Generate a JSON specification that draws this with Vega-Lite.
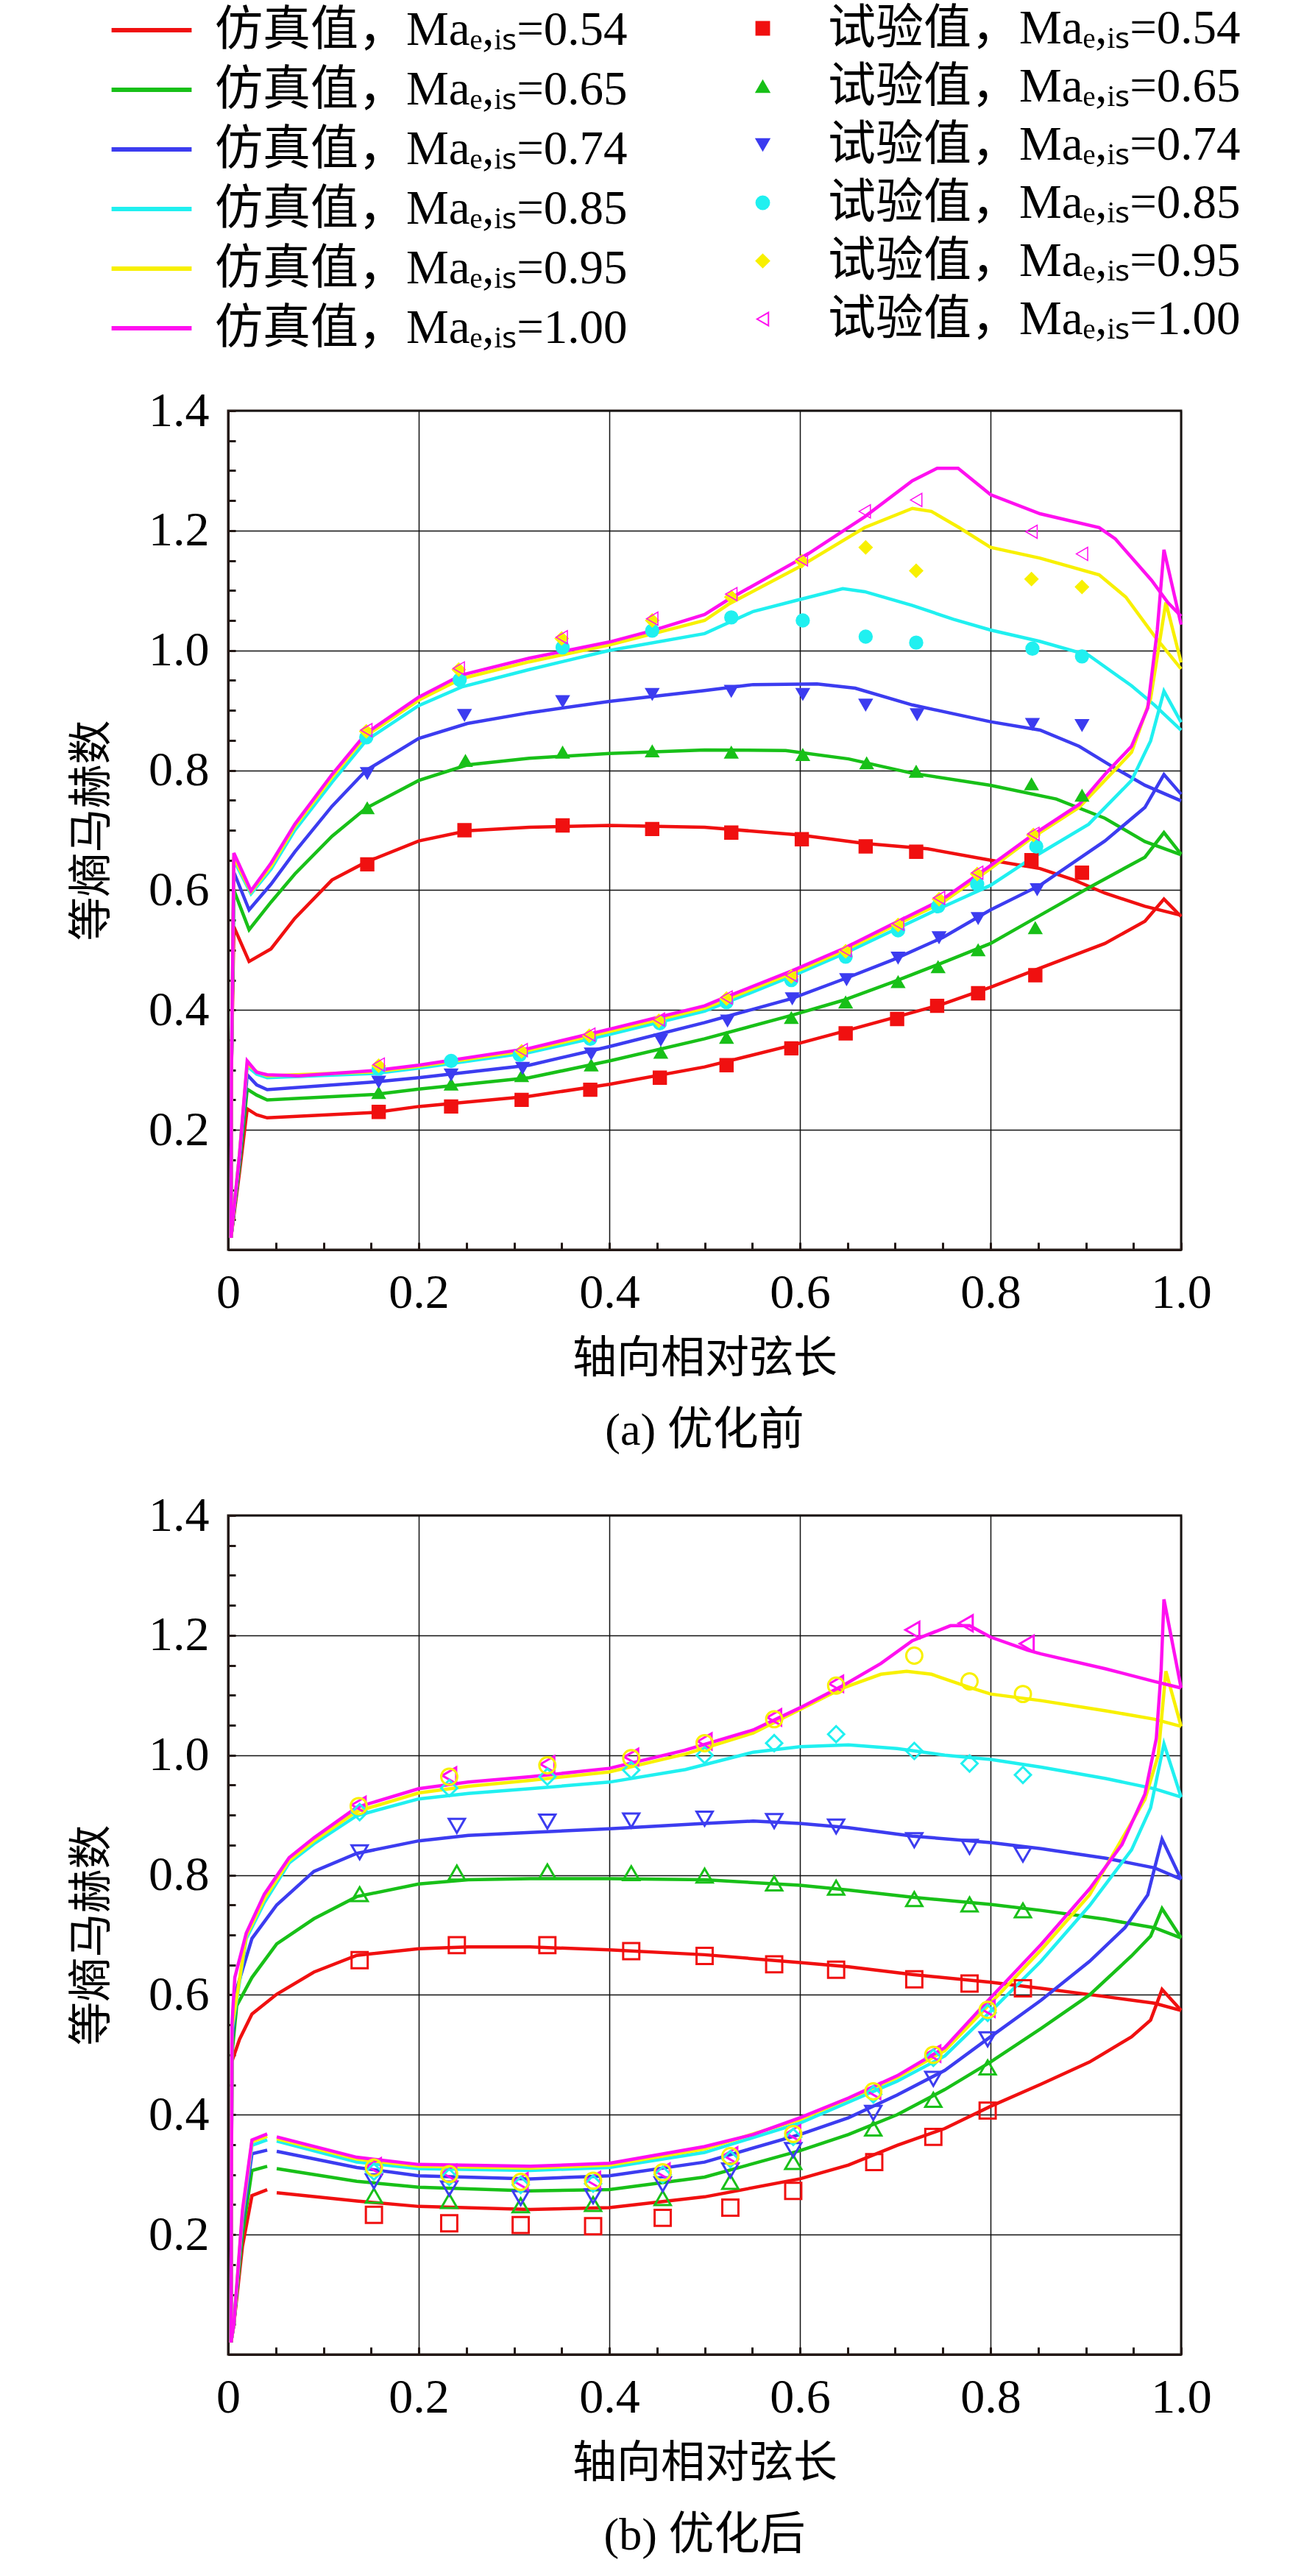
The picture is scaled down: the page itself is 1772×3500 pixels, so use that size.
{
  "$schema": "https://vega.github.io/schema/vega-lite/v6.json",
  "background": "white",
  "padding": {"left": 94, "top": 6, "right": 0, "bottom": 0},
  "spacing": 47,
  "config": {
    "view": {"stroke": "#231815", "strokeWidth": 3},
    "axis": {
      "domainColor": "#231815", "domainWidth": 3,
      "tickColor": "#231815", "tickWidth": 3, "tickSize": -10,
      "gridColor": "#111111", "gridWidth": 1.5,
      "labelFont": "Liberation Serif", "labelFontSize": 66, "labelColor": "#000000",
      "labelPadding": 36, "labelFlush": false, "labelOverlap": false, "labelBound": false,
      "titleFont": "Noto Sans CJK SC", "titleFontSize": 60, "titleFontWeight": "normal", "titleColor": "#000000"
    },
    "legend": {
      "orient": "none", "padding": 0, "rowPadding": 13,
      "labelFont": "Liberation Serif, Noto Sans CJK SC", "labelFontSize": 65, "labelColor": "#000000", "labelLimit": 0
    },
    "title": {"font": "Liberation Serif, Noto Sans CJK SC", "fontSize": 62, "fontWeight": "normal", "color": "#000000"}
  },
  "datasets": {
    "simA": [
      {"sim":"0.54","s":"u","x":0.003,"y":0.02},{"sim":"0.54","s":"u","x":0.0035,"y":0.3},{"sim":"0.54","s":"u","x":0.006,"y":0.539},{"sim":"0.54","s":"u","x":0.022,"y":0.481},{"sim":"0.54","s":"u","x":0.045,"y":0.502},{"sim":"0.54","s":"u","x":0.07,"y":0.553},{"sim":"0.54","s":"u","x":0.109,"y":0.617},{"sim":"0.54","s":"u","x":0.145,"y":0.647},{"sim":"0.54","s":"u","x":0.2,"y":0.682},{"sim":"0.54","s":"u","x":0.251,"y":0.699},{"sim":"0.54","s":"u","x":0.316,"y":0.705},{"sim":"0.54","s":"u","x":0.4,"y":0.708},{"sim":"0.54","s":"u","x":0.5,"y":0.705},{"sim":"0.54","s":"u","x":0.6,"y":0.692},{"sim":"0.54","s":"u","x":0.668,"y":0.678},{"sim":"0.54","s":"u","x":0.734,"y":0.669},{"sim":"0.54","s":"u","x":0.8,"y":0.65},{"sim":"0.54","s":"u","x":0.852,"y":0.636},{"sim":"0.54","s":"u","x":0.886,"y":0.618},{"sim":"0.54","s":"u","x":0.92,"y":0.595},{"sim":"0.54","s":"u","x":0.962,"y":0.573},{"sim":"0.54","s":"u","x":1.0,"y":0.558},
      {"sim":"0.54","s":"l","x":0.003,"y":0.02},{"sim":"0.54","s":"l","x":0.012,"y":0.13},{"sim":"0.54","s":"l","x":0.02,"y":0.235},{"sim":"0.54","s":"l","x":0.03,"y":0.225},{"sim":"0.54","s":"l","x":0.041,"y":0.22},{"sim":"0.54","s":"l","x":0.154,"y":0.229},{"sim":"0.54","s":"l","x":0.2,"y":0.239},{"sim":"0.54","s":"l","x":0.316,"y":0.256},{"sim":"0.54","s":"l","x":0.4,"y":0.276},{"sim":"0.54","s":"l","x":0.5,"y":0.305},{"sim":"0.54","s":"l","x":0.591,"y":0.341},{"sim":"0.54","s":"l","x":0.645,"y":0.364},{"sim":"0.54","s":"l","x":0.698,"y":0.387},{"sim":"0.54","s":"l","x":0.75,"y":0.41},{"sim":"0.54","s":"l","x":0.8,"y":0.438},{"sim":"0.54","s":"l","x":0.852,"y":0.47},{"sim":"0.54","s":"l","x":0.92,"y":0.511},{"sim":"0.54","s":"l","x":0.962,"y":0.548},{"sim":"0.54","s":"l","x":0.982,"y":0.585},{"sim":"0.54","s":"l","x":1.0,"y":0.556},
      {"sim":"0.65","s":"u","x":0.003,"y":0.02},{"sim":"0.65","s":"u","x":0.0035,"y":0.3},{"sim":"0.65","s":"u","x":0.006,"y":0.6},{"sim":"0.65","s":"u","x":0.022,"y":0.534},{"sim":"0.65","s":"u","x":0.045,"y":0.58},{"sim":"0.65","s":"u","x":0.07,"y":0.627},{"sim":"0.65","s":"u","x":0.109,"y":0.69},{"sim":"0.65","s":"u","x":0.145,"y":0.737},{"sim":"0.65","s":"u","x":0.2,"y":0.783},{"sim":"0.65","s":"u","x":0.251,"y":0.809},{"sim":"0.65","s":"u","x":0.316,"y":0.82},{"sim":"0.65","s":"u","x":0.4,"y":0.828},{"sim":"0.65","s":"u","x":0.5,"y":0.834},{"sim":"0.65","s":"u","x":0.585,"y":0.833},{"sim":"0.65","s":"u","x":0.651,"y":0.819},{"sim":"0.65","s":"u","x":0.718,"y":0.795},{"sim":"0.65","s":"u","x":0.8,"y":0.775},{"sim":"0.65","s":"u","x":0.869,"y":0.752},{"sim":"0.65","s":"u","x":0.92,"y":0.72},{"sim":"0.65","s":"u","x":0.962,"y":0.681},{"sim":"0.65","s":"u","x":1.0,"y":0.659},
      {"sim":"0.65","s":"l","x":0.003,"y":0.02},{"sim":"0.65","s":"l","x":0.012,"y":0.14},{"sim":"0.65","s":"l","x":0.02,"y":0.268},{"sim":"0.65","s":"l","x":0.03,"y":0.258},{"sim":"0.65","s":"l","x":0.041,"y":0.25},{"sim":"0.65","s":"l","x":0.154,"y":0.259},{"sim":"0.65","s":"l","x":0.2,"y":0.268},{"sim":"0.65","s":"l","x":0.316,"y":0.287},{"sim":"0.65","s":"l","x":0.4,"y":0.315},{"sim":"0.65","s":"l","x":0.5,"y":0.352},{"sim":"0.65","s":"l","x":0.591,"y":0.391},{"sim":"0.65","s":"l","x":0.645,"y":0.416},{"sim":"0.65","s":"l","x":0.698,"y":0.447},{"sim":"0.65","s":"l","x":0.75,"y":0.479},{"sim":"0.65","s":"l","x":0.8,"y":0.511},{"sim":"0.65","s":"l","x":0.852,"y":0.558},{"sim":"0.65","s":"l","x":0.903,"y":0.604},{"sim":"0.65","s":"l","x":0.962,"y":0.655},{"sim":"0.65","s":"l","x":0.982,"y":0.696},{"sim":"0.65","s":"l","x":1.0,"y":0.66},
      {"sim":"0.74","s":"u","x":0.003,"y":0.02},{"sim":"0.74","s":"u","x":0.0035,"y":0.3},{"sim":"0.74","s":"u","x":0.006,"y":0.63},{"sim":"0.74","s":"u","x":0.022,"y":0.567},{"sim":"0.74","s":"u","x":0.045,"y":0.61},{"sim":"0.74","s":"u","x":0.07,"y":0.664},{"sim":"0.74","s":"u","x":0.109,"y":0.74},{"sim":"0.74","s":"u","x":0.145,"y":0.8},{"sim":"0.74","s":"u","x":0.2,"y":0.853},{"sim":"0.74","s":"u","x":0.251,"y":0.878},{"sim":"0.74","s":"u","x":0.316,"y":0.896},{"sim":"0.74","s":"u","x":0.4,"y":0.915},{"sim":"0.74","s":"u","x":0.5,"y":0.933},{"sim":"0.74","s":"u","x":0.551,"y":0.943},{"sim":"0.74","s":"u","x":0.618,"y":0.944},{"sim":"0.74","s":"u","x":0.658,"y":0.937},{"sim":"0.74","s":"u","x":0.718,"y":0.909},{"sim":"0.74","s":"u","x":0.8,"y":0.881},{"sim":"0.74","s":"u","x":0.852,"y":0.867},{"sim":"0.74","s":"u","x":0.893,"y":0.84},{"sim":"0.74","s":"u","x":0.927,"y":0.807},{"sim":"0.74","s":"u","x":0.962,"y":0.775},{"sim":"0.74","s":"u","x":1.0,"y":0.749},
      {"sim":"0.74","s":"l","x":0.003,"y":0.02},{"sim":"0.74","s":"l","x":0.012,"y":0.15},{"sim":"0.74","s":"l","x":0.02,"y":0.292},{"sim":"0.74","s":"l","x":0.03,"y":0.275},{"sim":"0.74","s":"l","x":0.041,"y":0.267},{"sim":"0.74","s":"l","x":0.154,"y":0.28},{"sim":"0.74","s":"l","x":0.2,"y":0.287},{"sim":"0.74","s":"l","x":0.316,"y":0.308},{"sim":"0.74","s":"l","x":0.4,"y":0.339},{"sim":"0.74","s":"l","x":0.5,"y":0.379},{"sim":"0.74","s":"l","x":0.591,"y":0.419},{"sim":"0.74","s":"l","x":0.645,"y":0.451},{"sim":"0.74","s":"l","x":0.698,"y":0.484},{"sim":"0.74","s":"l","x":0.75,"y":0.521},{"sim":"0.74","s":"l","x":0.8,"y":0.567},{"sim":"0.74","s":"l","x":0.852,"y":0.608},{"sim":"0.74","s":"l","x":0.92,"y":0.682},{"sim":"0.74","s":"l","x":0.962,"y":0.738},{"sim":"0.74","s":"l","x":0.982,"y":0.793},{"sim":"0.74","s":"l","x":1.0,"y":0.76},
      {"sim":"0.85","s":"u","x":0.003,"y":0.02},{"sim":"0.85","s":"u","x":0.0035,"y":0.3},{"sim":"0.85","s":"u","x":0.006,"y":0.65},{"sim":"0.85","s":"u","x":0.024,"y":0.594},{"sim":"0.85","s":"u","x":0.045,"y":0.635},{"sim":"0.85","s":"u","x":0.07,"y":0.7},{"sim":"0.85","s":"u","x":0.109,"y":0.78},{"sim":"0.85","s":"u","x":0.145,"y":0.85},{"sim":"0.85","s":"u","x":0.2,"y":0.908},{"sim":"0.85","s":"u","x":0.245,"y":0.939},{"sim":"0.85","s":"u","x":0.316,"y":0.968},{"sim":"0.85","s":"u","x":0.4,"y":1.0},{"sim":"0.85","s":"u","x":0.5,"y":1.028},{"sim":"0.85","s":"u","x":0.551,"y":1.065},{"sim":"0.85","s":"u","x":0.6,"y":1.085},{"sim":"0.85","s":"u","x":0.645,"y":1.103},{"sim":"0.85","s":"u","x":0.668,"y":1.098},{"sim":"0.85","s":"u","x":0.718,"y":1.075},{"sim":"0.85","s":"u","x":0.761,"y":1.052},{"sim":"0.85","s":"u","x":0.8,"y":1.034},{"sim":"0.85","s":"u","x":0.852,"y":1.015},{"sim":"0.85","s":"u","x":0.903,"y":0.992},{"sim":"0.85","s":"u","x":0.948,"y":0.941},{"sim":"0.85","s":"u","x":0.972,"y":0.909},{"sim":"0.85","s":"u","x":1.0,"y":0.867},
      {"sim":"0.85","s":"l","x":0.003,"y":0.02},{"sim":"0.85","s":"l","x":0.012,"y":0.16},{"sim":"0.85","s":"l","x":0.02,"y":0.306},{"sim":"0.85","s":"l","x":0.03,"y":0.293},{"sim":"0.85","s":"l","x":0.041,"y":0.287},{"sim":"0.85","s":"l","x":0.154,"y":0.294},{"sim":"0.85","s":"l","x":0.2,"y":0.303},{"sim":"0.85","s":"l","x":0.316,"y":0.329},{"sim":"0.85","s":"l","x":0.4,"y":0.359},{"sim":"0.85","s":"l","x":0.5,"y":0.398},{"sim":"0.85","s":"l","x":0.591,"y":0.456},{"sim":"0.85","s":"l","x":0.645,"y":0.493},{"sim":"0.85","s":"l","x":0.698,"y":0.533},{"sim":"0.85","s":"l","x":0.75,"y":0.572},{"sim":"0.85","s":"l","x":0.8,"y":0.608},{"sim":"0.85","s":"l","x":0.844,"y":0.654},{"sim":"0.85","s":"l","x":0.903,"y":0.71},{"sim":"0.85","s":"l","x":0.948,"y":0.783},{"sim":"0.85","s":"l","x":0.968,"y":0.849},{"sim":"0.85","s":"l","x":0.982,"y":0.932},{"sim":"0.85","s":"l","x":1.0,"y":0.88},
      {"sim":"0.95","s":"u","x":0.003,"y":0.02},{"sim":"0.95","s":"u","x":0.0035,"y":0.3},{"sim":"0.95","s":"u","x":0.006,"y":0.655},{"sim":"0.95","s":"u","x":0.024,"y":0.597},{"sim":"0.95","s":"u","x":0.045,"y":0.64},{"sim":"0.95","s":"u","x":0.07,"y":0.706},{"sim":"0.95","s":"u","x":0.109,"y":0.788},{"sim":"0.95","s":"u","x":0.145,"y":0.858},{"sim":"0.95","s":"u","x":0.2,"y":0.917},{"sim":"0.95","s":"u","x":0.245,"y":0.953},{"sim":"0.95","s":"u","x":0.316,"y":0.981},{"sim":"0.95","s":"u","x":0.4,"y":1.009},{"sim":"0.95","s":"u","x":0.5,"y":1.05},{"sim":"0.95","s":"u","x":0.525,"y":1.077},{"sim":"0.95","s":"u","x":0.6,"y":1.14},{"sim":"0.95","s":"u","x":0.668,"y":1.205},{"sim":"0.95","s":"u","x":0.718,"y":1.237},{"sim":"0.95","s":"u","x":0.738,"y":1.232},{"sim":"0.95","s":"u","x":0.767,"y":1.205},{"sim":"0.95","s":"u","x":0.8,"y":1.172},{"sim":"0.95","s":"u","x":0.852,"y":1.154},{"sim":"0.95","s":"u","x":0.914,"y":1.126},{"sim":"0.95","s":"u","x":0.942,"y":1.089},{"sim":"0.95","s":"u","x":0.972,"y":1.024},{"sim":"0.95","s":"u","x":1.0,"y":0.969},
      {"sim":"0.95","s":"l","x":0.003,"y":0.02},{"sim":"0.95","s":"l","x":0.012,"y":0.16},{"sim":"0.95","s":"l","x":0.02,"y":0.31},{"sim":"0.95","s":"l","x":0.03,"y":0.297},{"sim":"0.95","s":"l","x":0.041,"y":0.29},{"sim":"0.95","s":"l","x":0.154,"y":0.297},{"sim":"0.95","s":"l","x":0.2,"y":0.306},{"sim":"0.95","s":"l","x":0.316,"y":0.333},{"sim":"0.95","s":"l","x":0.4,"y":0.364},{"sim":"0.95","s":"l","x":0.5,"y":0.403},{"sim":"0.95","s":"l","x":0.591,"y":0.461},{"sim":"0.95","s":"l","x":0.645,"y":0.498},{"sim":"0.95","s":"l","x":0.698,"y":0.54},{"sim":"0.95","s":"l","x":0.75,"y":0.58},{"sim":"0.95","s":"l","x":0.8,"y":0.636},{"sim":"0.95","s":"l","x":0.844,"y":0.688},{"sim":"0.95","s":"l","x":0.893,"y":0.738},{"sim":"0.95","s":"l","x":0.948,"y":0.83},{"sim":"0.95","s":"l","x":0.968,"y":0.92},{"sim":"0.95","s":"l","x":0.984,"y":1.08},{"sim":"0.95","s":"l","x":1.0,"y":0.98},
      {"sim":"1.00","s":"u","x":0.003,"y":0.02},{"sim":"1.00","s":"u","x":0.0035,"y":0.3},{"sim":"1.00","s":"u","x":0.006,"y":0.662},{"sim":"1.00","s":"u","x":0.024,"y":0.599},{"sim":"1.00","s":"u","x":0.045,"y":0.645},{"sim":"1.00","s":"u","x":0.07,"y":0.71},{"sim":"1.00","s":"u","x":0.109,"y":0.793},{"sim":"1.00","s":"u","x":0.145,"y":0.862},{"sim":"1.00","s":"u","x":0.2,"y":0.922},{"sim":"1.00","s":"u","x":0.245,"y":0.959},{"sim":"1.00","s":"u","x":0.316,"y":0.987},{"sim":"1.00","s":"u","x":0.4,"y":1.014},{"sim":"1.00","s":"u","x":0.445,"y":1.033},{"sim":"1.00","s":"u","x":0.5,"y":1.06},{"sim":"1.00","s":"u","x":0.525,"y":1.085},{"sim":"1.00","s":"u","x":0.6,"y":1.152},{"sim":"1.00","s":"u","x":0.668,"y":1.223},{"sim":"1.00","s":"u","x":0.718,"y":1.283},{"sim":"1.00","s":"u","x":0.744,"y":1.304},{"sim":"1.00","s":"u","x":0.766,"y":1.304},{"sim":"1.00","s":"u","x":0.8,"y":1.26},{"sim":"1.00","s":"u","x":0.852,"y":1.228},{"sim":"1.00","s":"u","x":0.914,"y":1.205},{"sim":"1.00","s":"u","x":0.931,"y":1.186},{"sim":"1.00","s":"u","x":0.969,"y":1.117},{"sim":"1.00","s":"u","x":0.986,"y":1.08},{"sim":"1.00","s":"u","x":1.0,"y":1.057},
      {"sim":"1.00","s":"l","x":0.003,"y":0.02},{"sim":"1.00","s":"l","x":0.012,"y":0.16},{"sim":"1.00","s":"l","x":0.02,"y":0.315},{"sim":"1.00","s":"l","x":0.03,"y":0.296},{"sim":"1.00","s":"l","x":0.041,"y":0.292},{"sim":"1.00","s":"l","x":0.074,"y":0.29},{"sim":"1.00","s":"l","x":0.154,"y":0.299},{"sim":"1.00","s":"l","x":0.2,"y":0.308},{"sim":"1.00","s":"l","x":0.316,"y":0.336},{"sim":"1.00","s":"l","x":0.4,"y":0.368},{"sim":"1.00","s":"l","x":0.5,"y":0.407},{"sim":"1.00","s":"l","x":0.518,"y":0.419},{"sim":"1.00","s":"l","x":0.591,"y":0.465},{"sim":"1.00","s":"l","x":0.645,"y":0.502},{"sim":"1.00","s":"l","x":0.698,"y":0.544},{"sim":"1.00","s":"l","x":0.75,"y":0.585},{"sim":"1.00","s":"l","x":0.8,"y":0.641},{"sim":"1.00","s":"l","x":0.844,"y":0.692},{"sim":"1.00","s":"l","x":0.893,"y":0.743},{"sim":"1.00","s":"l","x":0.92,"y":0.793},{"sim":"1.00","s":"l","x":0.948,"y":0.84},{"sim":"1.00","s":"l","x":0.965,"y":0.904},{"sim":"1.00","s":"l","x":0.975,"y":1.034},{"sim":"1.00","s":"l","x":0.982,"y":1.168},{"sim":"1.00","s":"l","x":1.0,"y":1.043}
    ],
    "simB": [
      {"sim":"0.54","s":"u","x":0.003,"y":0.02},{"sim":"0.54","s":"u","x":0.0035,"y":0.3},{"sim":"0.54","s":"u","x":0.004,"y":0.489},{"sim":"0.54","s":"u","x":0.012,"y":0.526},{"sim":"0.54","s":"u","x":0.025,"y":0.568},{"sim":"0.54","s":"u","x":0.051,"y":0.601},{"sim":"0.54","s":"u","x":0.09,"y":0.638},{"sim":"0.54","s":"u","x":0.135,"y":0.666},{"sim":"0.54","s":"u","x":0.2,"y":0.677},{"sim":"0.54","s":"u","x":0.252,"y":0.68},{"sim":"0.54","s":"u","x":0.317,"y":0.68},{"sim":"0.54","s":"u","x":0.4,"y":0.675},{"sim":"0.54","s":"u","x":0.5,"y":0.667},{"sim":"0.54","s":"u","x":0.6,"y":0.654},{"sim":"0.54","s":"u","x":0.651,"y":0.647},{"sim":"0.54","s":"u","x":0.718,"y":0.634},{"sim":"0.54","s":"u","x":0.8,"y":0.621},{"sim":"0.54","s":"u","x":0.853,"y":0.611},{"sim":"0.54","s":"u","x":0.921,"y":0.597},{"sim":"0.54","s":"u","x":0.972,"y":0.586},{"sim":"0.54","s":"u","x":1.0,"y":0.574},
      {"sim":"0.54","s":"l","x":0.003,"y":0.02},{"sim":"0.54","s":"l","x":0.006,"y":0.05},{"sim":"0.54","s":"l","x":0.015,"y":0.18},{"sim":"0.54","s":"l","x":0.025,"y":0.265},{"sim":"0.54","s":"l","x":0.041,"y":0.275},
      {"sim":"0.54","s":"m","x":0.051,"y":0.27},{"sim":"0.54","s":"m","x":0.135,"y":0.256},{"sim":"0.54","s":"m","x":0.2,"y":0.247},{"sim":"0.54","s":"m","x":0.317,"y":0.242},{"sim":"0.54","s":"m","x":0.4,"y":0.245},{"sim":"0.54","s":"m","x":0.5,"y":0.263},{"sim":"0.54","s":"m","x":0.6,"y":0.293},{"sim":"0.54","s":"m","x":0.651,"y":0.316},{"sim":"0.54","s":"m","x":0.702,"y":0.349},{"sim":"0.54","s":"m","x":0.752,"y":0.377},{"sim":"0.54","s":"m","x":0.8,"y":0.414},{"sim":"0.54","s":"m","x":0.853,"y":0.451},{"sim":"0.54","s":"m","x":0.904,"y":0.488},{"sim":"0.54","s":"m","x":0.948,"y":0.53},{"sim":"0.54","s":"m","x":0.968,"y":0.558},{"sim":"0.54","s":"m","x":0.98,"y":0.609},{"sim":"0.54","s":"m","x":1.0,"y":0.574},
      {"sim":"0.65","s":"u","x":0.003,"y":0.02},{"sim":"0.65","s":"u","x":0.0035,"y":0.3},{"sim":"0.65","s":"u","x":0.004,"y":0.5},{"sim":"0.65","s":"u","x":0.009,"y":0.582},{"sim":"0.65","s":"u","x":0.025,"y":0.629},{"sim":"0.65","s":"u","x":0.051,"y":0.685},{"sim":"0.65","s":"u","x":0.09,"y":0.727},{"sim":"0.65","s":"u","x":0.135,"y":0.764},{"sim":"0.65","s":"u","x":0.2,"y":0.785},{"sim":"0.65","s":"u","x":0.252,"y":0.792},{"sim":"0.65","s":"u","x":0.317,"y":0.794},{"sim":"0.65","s":"u","x":0.4,"y":0.794},{"sim":"0.65","s":"u","x":0.5,"y":0.792},{"sim":"0.65","s":"u","x":0.6,"y":0.783},{"sim":"0.65","s":"u","x":0.651,"y":0.775},{"sim":"0.65","s":"u","x":0.718,"y":0.763},{"sim":"0.65","s":"u","x":0.8,"y":0.751},{"sim":"0.65","s":"u","x":0.853,"y":0.741},{"sim":"0.65","s":"u","x":0.921,"y":0.726},{"sim":"0.65","s":"u","x":0.972,"y":0.712},{"sim":"0.65","s":"u","x":1.0,"y":0.695},
      {"sim":"0.65","s":"l","x":0.003,"y":0.02},{"sim":"0.65","s":"l","x":0.006,"y":0.05},{"sim":"0.65","s":"l","x":0.015,"y":0.2},{"sim":"0.65","s":"l","x":0.025,"y":0.307},{"sim":"0.65","s":"l","x":0.041,"y":0.314},
      {"sim":"0.65","s":"m","x":0.051,"y":0.31},{"sim":"0.65","s":"m","x":0.135,"y":0.289},{"sim":"0.65","s":"m","x":0.2,"y":0.279},{"sim":"0.65","s":"m","x":0.317,"y":0.273},{"sim":"0.65","s":"m","x":0.4,"y":0.275},{"sim":"0.65","s":"m","x":0.5,"y":0.296},{"sim":"0.65","s":"m","x":0.6,"y":0.34},{"sim":"0.65","s":"m","x":0.651,"y":0.367},{"sim":"0.65","s":"m","x":0.702,"y":0.4},{"sim":"0.65","s":"m","x":0.752,"y":0.442},{"sim":"0.65","s":"m","x":0.8,"y":0.488},{"sim":"0.65","s":"m","x":0.853,"y":0.544},{"sim":"0.65","s":"m","x":0.904,"y":0.6},{"sim":"0.65","s":"m","x":0.948,"y":0.665},{"sim":"0.65","s":"m","x":0.968,"y":0.698},{"sim":"0.65","s":"m","x":0.98,"y":0.744},{"sim":"0.65","s":"m","x":1.0,"y":0.695},
      {"sim":"0.74","s":"u","x":0.003,"y":0.02},{"sim":"0.74","s":"u","x":0.0035,"y":0.3},{"sim":"0.74","s":"u","x":0.004,"y":0.52},{"sim":"0.74","s":"u","x":0.009,"y":0.61},{"sim":"0.74","s":"u","x":0.025,"y":0.694},{"sim":"0.74","s":"u","x":0.051,"y":0.75},{"sim":"0.74","s":"u","x":0.09,"y":0.806},{"sim":"0.74","s":"u","x":0.135,"y":0.836},{"sim":"0.74","s":"u","x":0.2,"y":0.857},{"sim":"0.74","s":"u","x":0.252,"y":0.866},{"sim":"0.74","s":"u","x":0.317,"y":0.871},{"sim":"0.74","s":"u","x":0.4,"y":0.877},{"sim":"0.74","s":"u","x":0.5,"y":0.886},{"sim":"0.74","s":"u","x":0.551,"y":0.89},{"sim":"0.74","s":"u","x":0.6,"y":0.886},{"sim":"0.74","s":"u","x":0.651,"y":0.879},{"sim":"0.74","s":"u","x":0.718,"y":0.865},{"sim":"0.74","s":"u","x":0.8,"y":0.854},{"sim":"0.74","s":"u","x":0.853,"y":0.844},{"sim":"0.74","s":"u","x":0.921,"y":0.828},{"sim":"0.74","s":"u","x":0.972,"y":0.812},{"sim":"0.74","s":"u","x":1.0,"y":0.793},
      {"sim":"0.74","s":"l","x":0.003,"y":0.02},{"sim":"0.74","s":"l","x":0.006,"y":0.05},{"sim":"0.74","s":"l","x":0.015,"y":0.22},{"sim":"0.74","s":"l","x":0.025,"y":0.335},{"sim":"0.74","s":"l","x":0.041,"y":0.341},
      {"sim":"0.74","s":"m","x":0.051,"y":0.339},{"sim":"0.74","s":"m","x":0.135,"y":0.312},{"sim":"0.74","s":"m","x":0.2,"y":0.298},{"sim":"0.74","s":"m","x":0.317,"y":0.293},{"sim":"0.74","s":"m","x":0.4,"y":0.298},{"sim":"0.74","s":"m","x":0.5,"y":0.321},{"sim":"0.74","s":"m","x":0.6,"y":0.367},{"sim":"0.74","s":"m","x":0.651,"y":0.395},{"sim":"0.74","s":"m","x":0.702,"y":0.433},{"sim":"0.74","s":"m","x":0.752,"y":0.474},{"sim":"0.74","s":"m","x":0.8,"y":0.53},{"sim":"0.74","s":"m","x":0.853,"y":0.591},{"sim":"0.74","s":"m","x":0.904,"y":0.656},{"sim":"0.74","s":"m","x":0.941,"y":0.712},{"sim":"0.74","s":"m","x":0.965,"y":0.767},{"sim":"0.74","s":"m","x":0.98,"y":0.86},{"sim":"0.74","s":"m","x":1.0,"y":0.793},
      {"sim":"0.85","s":"u","x":0.003,"y":0.02},{"sim":"0.85","s":"u","x":0.0035,"y":0.3},{"sim":"0.85","s":"u","x":0.004,"y":0.54},{"sim":"0.85","s":"u","x":0.019,"y":0.694},{"sim":"0.85","s":"u","x":0.038,"y":0.754},{"sim":"0.85","s":"u","x":0.064,"y":0.82},{"sim":"0.85","s":"u","x":0.09,"y":0.852},{"sim":"0.85","s":"u","x":0.135,"y":0.899},{"sim":"0.85","s":"u","x":0.2,"y":0.927},{"sim":"0.85","s":"u","x":0.252,"y":0.936},{"sim":"0.85","s":"u","x":0.317,"y":0.944},{"sim":"0.85","s":"u","x":0.4,"y":0.955},{"sim":"0.85","s":"u","x":0.48,"y":0.976},{"sim":"0.85","s":"u","x":0.551,"y":1.005},{"sim":"0.85","s":"u","x":0.6,"y":1.014},{"sim":"0.85","s":"u","x":0.651,"y":1.017},{"sim":"0.85","s":"u","x":0.702,"y":1.011},{"sim":"0.85","s":"u","x":0.752,"y":1.0},{"sim":"0.85","s":"u","x":0.8,"y":0.993},{"sim":"0.85","s":"u","x":0.853,"y":0.98},{"sim":"0.85","s":"u","x":0.921,"y":0.961},{"sim":"0.85","s":"u","x":0.972,"y":0.944},{"sim":"0.85","s":"u","x":1.0,"y":0.93},
      {"sim":"0.85","s":"l","x":0.003,"y":0.02},{"sim":"0.85","s":"l","x":0.006,"y":0.05},{"sim":"0.85","s":"l","x":0.015,"y":0.23},{"sim":"0.85","s":"l","x":0.025,"y":0.349},{"sim":"0.85","s":"l","x":0.041,"y":0.358},
      {"sim":"0.85","s":"m","x":0.051,"y":0.356},{"sim":"0.85","s":"m","x":0.135,"y":0.321},{"sim":"0.85","s":"m","x":0.2,"y":0.31},{"sim":"0.85","s":"m","x":0.317,"y":0.307},{"sim":"0.85","s":"m","x":0.4,"y":0.312},{"sim":"0.85","s":"m","x":0.5,"y":0.337},{"sim":"0.85","s":"m","x":0.6,"y":0.386},{"sim":"0.85","s":"m","x":0.702,"y":0.456},{"sim":"0.85","s":"m","x":0.752,"y":0.498},{"sim":"0.85","s":"m","x":0.8,"y":0.572},{"sim":"0.85","s":"m","x":0.853,"y":0.656},{"sim":"0.85","s":"m","x":0.904,"y":0.749},{"sim":"0.85","s":"m","x":0.948,"y":0.842},{"sim":"0.85","s":"m","x":0.968,"y":0.912},{"sim":"0.85","s":"m","x":0.982,"y":1.019},{"sim":"0.85","s":"m","x":1.0,"y":0.93},
      {"sim":"0.95","s":"u","x":0.003,"y":0.02},{"sim":"0.95","s":"u","x":0.0035,"y":0.3},{"sim":"0.95","s":"u","x":0.004,"y":0.545},{"sim":"0.95","s":"u","x":0.019,"y":0.698},{"sim":"0.95","s":"u","x":0.038,"y":0.76},{"sim":"0.95","s":"u","x":0.064,"y":0.824},{"sim":"0.95","s":"u","x":0.09,"y":0.857},{"sim":"0.95","s":"u","x":0.135,"y":0.906},{"sim":"0.95","s":"u","x":0.2,"y":0.937},{"sim":"0.95","s":"u","x":0.252,"y":0.948},{"sim":"0.95","s":"u","x":0.317,"y":0.958},{"sim":"0.95","s":"u","x":0.4,"y":0.972},{"sim":"0.95","s":"u","x":0.48,"y":1.002},{"sim":"0.95","s":"u","x":0.551,"y":1.037},{"sim":"0.95","s":"u","x":0.6,"y":1.076},{"sim":"0.95","s":"u","x":0.645,"y":1.112},{"sim":"0.95","s":"u","x":0.685,"y":1.135},{"sim":"0.95","s":"u","x":0.712,"y":1.14},{"sim":"0.95","s":"u","x":0.738,"y":1.135},{"sim":"0.95","s":"u","x":0.778,"y":1.113},{"sim":"0.95","s":"u","x":0.8,"y":1.102},{"sim":"0.95","s":"u","x":0.853,"y":1.091},{"sim":"0.95","s":"u","x":0.921,"y":1.074},{"sim":"0.95","s":"u","x":0.972,"y":1.06},{"sim":"0.95","s":"u","x":1.0,"y":1.048},
      {"sim":"0.95","s":"l","x":0.003,"y":0.02},{"sim":"0.95","s":"l","x":0.006,"y":0.05},{"sim":"0.95","s":"l","x":0.015,"y":0.235},{"sim":"0.95","s":"l","x":0.025,"y":0.355},{"sim":"0.95","s":"l","x":0.041,"y":0.364},
      {"sim":"0.95","s":"m","x":0.051,"y":0.36},{"sim":"0.95","s":"m","x":0.135,"y":0.326},{"sim":"0.95","s":"m","x":0.2,"y":0.314},{"sim":"0.95","s":"m","x":0.317,"y":0.311},{"sim":"0.95","s":"m","x":0.4,"y":0.316},{"sim":"0.95","s":"m","x":0.5,"y":0.343},{"sim":"0.95","s":"m","x":0.6,"y":0.392},{"sim":"0.95","s":"m","x":0.702,"y":0.462},{"sim":"0.95","s":"m","x":0.752,"y":0.507},{"sim":"0.95","s":"m","x":0.8,"y":0.586},{"sim":"0.95","s":"m","x":0.853,"y":0.675},{"sim":"0.95","s":"m","x":0.904,"y":0.767},{"sim":"0.95","s":"m","x":0.962,"y":0.926},{"sim":"0.95","s":"m","x":0.976,"y":1.0},{"sim":"0.95","s":"m","x":0.984,"y":1.14},{"sim":"0.95","s":"m","x":1.0,"y":1.048},
      {"sim":"1.00","s":"u","x":0.003,"y":0.02},{"sim":"1.00","s":"u","x":0.0035,"y":0.3},{"sim":"1.00","s":"u","x":0.004,"y":0.55},{"sim":"1.00","s":"u","x":0.007,"y":0.629},{"sim":"1.00","s":"u","x":0.019,"y":0.703},{"sim":"1.00","s":"u","x":0.038,"y":0.768},{"sim":"1.00","s":"u","x":0.064,"y":0.829},{"sim":"1.00","s":"u","x":0.09,"y":0.862},{"sim":"1.00","s":"u","x":0.135,"y":0.913},{"sim":"1.00","s":"u","x":0.2,"y":0.944},{"sim":"1.00","s":"u","x":0.252,"y":0.955},{"sim":"1.00","s":"u","x":0.317,"y":0.964},{"sim":"1.00","s":"u","x":0.4,"y":0.978},{"sim":"1.00","s":"u","x":0.479,"y":1.008},{"sim":"1.00","s":"u","x":0.551,"y":1.042},{"sim":"1.00","s":"u","x":0.6,"y":1.079},{"sim":"1.00","s":"u","x":0.645,"y":1.116},{"sim":"1.00","s":"u","x":0.685,"y":1.153},{"sim":"1.00","s":"u","x":0.718,"y":1.191},{"sim":"1.00","s":"u","x":0.758,"y":1.216},{"sim":"1.00","s":"u","x":0.778,"y":1.216},{"sim":"1.00","s":"u","x":0.8,"y":1.197},{"sim":"1.00","s":"u","x":0.839,"y":1.175},{"sim":"1.00","s":"u","x":0.853,"y":1.169},{"sim":"1.00","s":"u","x":0.921,"y":1.144},{"sim":"1.00","s":"u","x":0.972,"y":1.123},{"sim":"1.00","s":"u","x":1.0,"y":1.112},
      {"sim":"1.00","s":"l","x":0.003,"y":0.02},{"sim":"1.00","s":"l","x":0.006,"y":0.05},{"sim":"1.00","s":"l","x":0.015,"y":0.24},{"sim":"1.00","s":"l","x":0.025,"y":0.358},{"sim":"1.00","s":"l","x":0.041,"y":0.368},
      {"sim":"1.00","s":"m","x":0.051,"y":0.363},{"sim":"1.00","s":"m","x":0.135,"y":0.329},{"sim":"1.00","s":"m","x":0.2,"y":0.317},{"sim":"1.00","s":"m","x":0.317,"y":0.314},{"sim":"1.00","s":"m","x":0.4,"y":0.319},{"sim":"1.00","s":"m","x":0.5,"y":0.347},{"sim":"1.00","s":"m","x":0.551,"y":0.367},{"sim":"1.00","s":"m","x":0.6,"y":0.395},{"sim":"1.00","s":"m","x":0.651,"y":0.428},{"sim":"1.00","s":"m","x":0.702,"y":0.465},{"sim":"1.00","s":"m","x":0.752,"y":0.512},{"sim":"1.00","s":"m","x":0.8,"y":0.595},{"sim":"1.00","s":"m","x":0.853,"y":0.684},{"sim":"1.00","s":"m","x":0.904,"y":0.777},{"sim":"1.00","s":"m","x":0.938,"y":0.851},{"sim":"1.00","s":"m","x":0.962,"y":0.935},{"sim":"1.00","s":"m","x":0.974,"y":1.028},{"sim":"1.00","s":"m","x":0.979,"y":1.14},{"sim":"1.00","s":"m","x":0.982,"y":1.26},{"sim":"1.00","s":"m","x":1.0,"y":1.112}
    ],
    "expA": [
      {"exp":"0.54","x":0.146,"y":0.643},{"exp":"0.54","x":0.248,"y":0.7},{"exp":"0.54","x":0.351,"y":0.708},{"exp":"0.54","x":0.445,"y":0.702},{"exp":"0.54","x":0.528,"y":0.696},{"exp":"0.54","x":0.602,"y":0.685},{"exp":"0.54","x":0.669,"y":0.673},{"exp":"0.54","x":0.722,"y":0.664},{"exp":"0.54","x":0.843,"y":0.65},{"exp":"0.54","x":0.896,"y":0.629},
      {"exp":"0.54","x":0.158,"y":0.23},{"exp":"0.54","x":0.234,"y":0.239},{"exp":"0.54","x":0.308,"y":0.25},{"exp":"0.54","x":0.38,"y":0.267},{"exp":"0.54","x":0.453,"y":0.287},{"exp":"0.54","x":0.523,"y":0.308},{"exp":"0.54","x":0.591,"y":0.336},{"exp":"0.54","x":0.648,"y":0.361},{"exp":"0.54","x":0.702,"y":0.385},{"exp":"0.54","x":0.744,"y":0.407},{"exp":"0.54","x":0.787,"y":0.428},{"exp":"0.54","x":0.847,"y":0.458},
      {"exp":"0.65","x":0.146,"y":0.737},{"exp":"0.65","x":0.249,"y":0.816},{"exp":"0.65","x":0.351,"y":0.83},{"exp":"0.65","x":0.445,"y":0.832},{"exp":"0.65","x":0.528,"y":0.83},{"exp":"0.65","x":0.603,"y":0.826},{"exp":"0.65","x":0.67,"y":0.812},{"exp":"0.65","x":0.722,"y":0.798},{"exp":"0.65","x":0.843,"y":0.777},{"exp":"0.65","x":0.896,"y":0.758},
      {"exp":"0.65","x":0.158,"y":0.262},{"exp":"0.65","x":0.234,"y":0.276},{"exp":"0.65","x":0.308,"y":0.29},{"exp":"0.65","x":0.381,"y":0.308},{"exp":"0.65","x":0.454,"y":0.329},{"exp":"0.65","x":0.523,"y":0.354},{"exp":"0.65","x":0.591,"y":0.387},{"exp":"0.65","x":0.648,"y":0.413},{"exp":"0.65","x":0.703,"y":0.447},{"exp":"0.65","x":0.745,"y":0.472},{"exp":"0.65","x":0.787,"y":0.5},{"exp":"0.65","x":0.847,"y":0.537},
      {"exp":"0.74","x":0.146,"y":0.795},{"exp":"0.74","x":0.248,"y":0.892},{"exp":"0.74","x":0.351,"y":0.915},{"exp":"0.74","x":0.445,"y":0.927},{"exp":"0.74","x":0.528,"y":0.932},{"exp":"0.74","x":0.603,"y":0.927},{"exp":"0.74","x":0.669,"y":0.909},{"exp":"0.74","x":0.723,"y":0.893},{"exp":"0.74","x":0.844,"y":0.877},{"exp":"0.74","x":0.896,"y":0.875},
      {"exp":"0.74","x":0.158,"y":0.28},{"exp":"0.74","x":0.234,"y":0.292},{"exp":"0.74","x":0.309,"y":0.303},{"exp":"0.74","x":0.381,"y":0.327},{"exp":"0.74","x":0.454,"y":0.35},{"exp":"0.74","x":0.524,"y":0.382},{"exp":"0.74","x":0.592,"y":0.419},{"exp":"0.74","x":0.649,"y":0.451},{"exp":"0.74","x":0.703,"y":0.487},{"exp":"0.74","x":0.746,"y":0.521},{"exp":"0.74","x":0.787,"y":0.553},{"exp":"0.74","x":0.849,"y":0.601},
      {"exp":"0.85","x":0.145,"y":0.855},{"exp":"0.85","x":0.243,"y":0.951},{"exp":"0.85","x":0.351,"y":1.005},{"exp":"0.85","x":0.445,"y":1.033},{"exp":"0.85","x":0.528,"y":1.055},{"exp":"0.85","x":0.603,"y":1.05},{"exp":"0.85","x":0.669,"y":1.023},{"exp":"0.85","x":0.722,"y":1.013},{"exp":"0.85","x":0.844,"y":1.003},{"exp":"0.85","x":0.896,"y":0.99},
      {"exp":"0.85","x":0.158,"y":0.302},{"exp":"0.85","x":0.234,"y":0.315},{"exp":"0.85","x":0.306,"y":0.325},{"exp":"0.85","x":0.38,"y":0.352},{"exp":"0.85","x":0.453,"y":0.378},{"exp":"0.85","x":0.523,"y":0.413},{"exp":"0.85","x":0.591,"y":0.45},{"exp":"0.85","x":0.648,"y":0.489},{"exp":"0.85","x":0.703,"y":0.533},{"exp":"0.85","x":0.745,"y":0.573},{"exp":"0.85","x":0.786,"y":0.61},{"exp":"0.85","x":0.848,"y":0.673},
      {"exp":"0.95","x":0.145,"y":0.865},{"exp":"0.95","x":0.242,"y":0.968},{"exp":"0.95","x":0.35,"y":1.02},{"exp":"0.95","x":0.445,"y":1.05},{"exp":"0.95","x":0.528,"y":1.089},{"exp":"0.95","x":0.602,"y":1.149},{"exp":"0.95","x":0.669,"y":1.172},{"exp":"0.95","x":0.722,"y":1.133},{"exp":"0.95","x":0.843,"y":1.119},{"exp":"0.95","x":0.896,"y":1.106},
      {"exp":"0.95","x":0.158,"y":0.307},{"exp":"0.95","x":0.308,"y":0.331},{"exp":"0.95","x":0.379,"y":0.357},{"exp":"0.95","x":0.452,"y":0.382},{"exp":"0.95","x":0.523,"y":0.419},{"exp":"0.95","x":0.591,"y":0.456},{"exp":"0.95","x":0.648,"y":0.498},{"exp":"0.95","x":0.703,"y":0.542},{"exp":"0.95","x":0.746,"y":0.585},{"exp":"0.95","x":0.786,"y":0.627},{"exp":"0.95","x":0.845,"y":0.692},
      {"exp":"1.00","x":0.145,"y":0.867},{"exp":"1.00","x":0.242,"y":0.97},{"exp":"1.00","x":0.35,"y":1.022},{"exp":"1.00","x":0.445,"y":1.053},{"exp":"1.00","x":0.528,"y":1.094},{"exp":"1.00","x":0.602,"y":1.152},{"exp":"1.00","x":0.668,"y":1.232},{"exp":"1.00","x":0.722,"y":1.251},{"exp":"1.00","x":0.843,"y":1.198},{"exp":"1.00","x":0.896,"y":1.161},
      {"exp":"1.00","x":0.158,"y":0.309},{"exp":"1.00","x":0.308,"y":0.333},{"exp":"1.00","x":0.379,"y":0.359},{"exp":"1.00","x":0.452,"y":0.384},{"exp":"1.00","x":0.523,"y":0.421},{"exp":"1.00","x":0.591,"y":0.458},{"exp":"1.00","x":0.648,"y":0.5},{"exp":"1.00","x":0.703,"y":0.544},{"exp":"1.00","x":0.746,"y":0.587},{"exp":"1.00","x":0.786,"y":0.629},{"exp":"1.00","x":0.845,"y":0.694}
    ],
    "expB": [
      {"exp":"0.54","x":0.138,"y":0.658},{"exp":"0.54","x":0.24,"y":0.683},{"exp":"0.54","x":0.335,"y":0.683},{"exp":"0.54","x":0.423,"y":0.673},{"exp":"0.54","x":0.5,"y":0.665},{"exp":"0.54","x":0.573,"y":0.651},{"exp":"0.54","x":0.638,"y":0.642},{"exp":"0.54","x":0.72,"y":0.626},{"exp":"0.54","x":0.778,"y":0.619},{"exp":"0.54","x":0.834,"y":0.611},
      {"exp":"0.54","x":0.153,"y":0.233},{"exp":"0.54","x":0.232,"y":0.219},{"exp":"0.54","x":0.307,"y":0.216},{"exp":"0.54","x":0.383,"y":0.214},{"exp":"0.54","x":0.456,"y":0.228},{"exp":"0.54","x":0.527,"y":0.245},{"exp":"0.54","x":0.593,"y":0.273},{"exp":"0.54","x":0.678,"y":0.321},{"exp":"0.54","x":0.74,"y":0.363},{"exp":"0.54","x":0.797,"y":0.407},
      {"exp":"0.65","x":0.138,"y":0.768},{"exp":"0.65","x":0.24,"y":0.804},{"exp":"0.65","x":0.335,"y":0.806},{"exp":"0.65","x":0.423,"y":0.803},{"exp":"0.65","x":0.5,"y":0.799},{"exp":"0.65","x":0.573,"y":0.786},{"exp":"0.65","x":0.638,"y":0.779},{"exp":"0.65","x":0.72,"y":0.76},{"exp":"0.65","x":0.778,"y":0.751},{"exp":"0.65","x":0.834,"y":0.741},
      {"exp":"0.65","x":0.153,"y":0.265},{"exp":"0.65","x":0.232,"y":0.256},{"exp":"0.65","x":0.307,"y":0.249},{"exp":"0.65","x":0.383,"y":0.251},{"exp":"0.65","x":0.456,"y":0.261},{"exp":"0.65","x":0.527,"y":0.288},{"exp":"0.65","x":0.593,"y":0.321},{"exp":"0.65","x":0.677,"y":0.377},{"exp":"0.65","x":0.74,"y":0.425},{"exp":"0.65","x":0.797,"y":0.479},
      {"exp":"0.74","x":0.138,"y":0.838},{"exp":"0.74","x":0.24,"y":0.882},{"exp":"0.74","x":0.335,"y":0.889},{"exp":"0.74","x":0.423,"y":0.891},{"exp":"0.74","x":0.5,"y":0.894},{"exp":"0.74","x":0.573,"y":0.89},{"exp":"0.74","x":0.638,"y":0.881},{"exp":"0.74","x":0.72,"y":0.858},{"exp":"0.74","x":0.778,"y":0.847},{"exp":"0.74","x":0.834,"y":0.834},
      {"exp":"0.74","x":0.153,"y":0.289},{"exp":"0.74","x":0.232,"y":0.277},{"exp":"0.74","x":0.307,"y":0.261},{"exp":"0.74","x":0.383,"y":0.264},{"exp":"0.74","x":0.456,"y":0.284},{"exp":"0.74","x":0.527,"y":0.307},{"exp":"0.74","x":0.593,"y":0.341},{"exp":"0.74","x":0.677,"y":0.403},{"exp":"0.74","x":0.74,"y":0.46},{"exp":"0.74","x":0.797,"y":0.526},
      {"exp":"0.85","x":0.138,"y":0.905},{"exp":"0.85","x":0.232,"y":0.945},{"exp":"0.85","x":0.335,"y":0.964},{"exp":"0.85","x":0.423,"y":0.975},{"exp":"0.85","x":0.5,"y":1.0},{"exp":"0.85","x":0.573,"y":1.02},{"exp":"0.85","x":0.638,"y":1.035},{"exp":"0.85","x":0.72,"y":1.007},{"exp":"0.85","x":0.778,"y":0.986},{"exp":"0.85","x":0.834,"y":0.967},
      {"exp":"0.85","x":0.153,"y":0.305},{"exp":"0.85","x":0.232,"y":0.296},{"exp":"0.85","x":0.307,"y":0.283},{"exp":"0.85","x":0.383,"y":0.285},{"exp":"0.85","x":0.456,"y":0.3},{"exp":"0.85","x":0.527,"y":0.326},{"exp":"0.85","x":0.593,"y":0.363},{"exp":"0.85","x":0.677,"y":0.434},{"exp":"0.85","x":0.74,"y":0.495},{"exp":"0.85","x":0.797,"y":0.57},
      {"exp":"0.95","x":0.137,"y":0.915},{"exp":"0.95","x":0.232,"y":0.964},{"exp":"0.95","x":0.335,"y":0.983},{"exp":"0.95","x":0.423,"y":0.995},{"exp":"0.95","x":0.5,"y":1.02},{"exp":"0.95","x":0.573,"y":1.06},{"exp":"0.95","x":0.638,"y":1.116},{"exp":"0.95","x":0.72,"y":1.166},{"exp":"0.95","x":0.778,"y":1.123},{"exp":"0.95","x":0.834,"y":1.102},
      {"exp":"0.95","x":0.153,"y":0.312},{"exp":"0.95","x":0.232,"y":0.301},{"exp":"0.95","x":0.307,"y":0.288},{"exp":"0.95","x":0.383,"y":0.29},{"exp":"0.95","x":0.456,"y":0.304},{"exp":"0.95","x":0.527,"y":0.331},{"exp":"0.95","x":0.593,"y":0.368},{"exp":"0.95","x":0.677,"y":0.439},{"exp":"0.95","x":0.74,"y":0.5},{"exp":"0.95","x":0.797,"y":0.575},
      {"exp":"1.00","x":0.137,"y":0.917},{"exp":"1.00","x":0.232,"y":0.966},{"exp":"1.00","x":0.335,"y":0.985},{"exp":"1.00","x":0.423,"y":0.997},{"exp":"1.00","x":0.5,"y":1.023},{"exp":"1.00","x":0.573,"y":1.063},{"exp":"1.00","x":0.638,"y":1.119},{"exp":"1.00","x":0.718,"y":1.209},{"exp":"1.00","x":0.774,"y":1.22},{"exp":"1.00","x":0.838,"y":1.186},
      {"exp":"1.00","x":0.153,"y":0.314},{"exp":"1.00","x":0.232,"y":0.303},{"exp":"1.00","x":0.307,"y":0.289},{"exp":"1.00","x":0.383,"y":0.291},{"exp":"1.00","x":0.456,"y":0.305},{"exp":"1.00","x":0.527,"y":0.332},{"exp":"1.00","x":0.593,"y":0.369},{"exp":"1.00","x":0.677,"y":0.44},{"exp":"1.00","x":0.74,"y":0.502},{"exp":"1.00","x":0.797,"y":0.577}
    ]
  },
  "vconcat": [
    {
      "width": 1295,
      "height": 1140,
      "title": {"text": "(a) 优化前", "orient": "bottom", "offset": 38, "anchor": "middle"},
      "layer": [
        {
          "data": {"name": "simA"},
          "mark": {"type": "line", "strokeWidth": 4.5},
          "encoding": {
            "x": {"field": "x", "type": "quantitative", "scale": {"domain": [0, 1], "nice": false},
              "axis": {"title": "轴向相对弦长", "titlePadding": 28,
                "values": [0,0.05,0.1,0.15,0.2,0.25,0.3,0.35,0.4,0.45,0.5,0.55,0.6,0.65,0.7,0.75,0.8,0.85,0.9,0.95,1],
                "grid": true,
                "gridOpacity": {"condition": {"test": "abs(datum.value/0.2-round(datum.value/0.2))<0.01", "value": 1}, "value": 0},
                "labelExpr": "abs(datum.value/0.2-round(datum.value/0.2))<0.01 ? (datum.value<0.01 ? '0' : format(datum.value, '.1f')) : ''"}},
            "y": {"field": "y", "type": "quantitative", "scale": {"domain": [0, 1.4], "nice": false},
              "axis": {"title": "等熵马赫数", "titlePadding": 45,
                "values": [0,0.05,0.1,0.15,0.2,0.25,0.3,0.35,0.4,0.45,0.5,0.55,0.6,0.65,0.7,0.75,0.8,0.85,0.9,0.95,1,1.05,1.1,1.15,1.2,1.25,1.3,1.35,1.4],
                "grid": true,
                "gridOpacity": {"condition": {"test": "abs(datum.value/0.2-round(datum.value/0.2))<0.01", "value": 1}, "value": 0},
                "labelExpr": "abs(datum.value/0.2-round(datum.value/0.2))<0.01 && datum.value>0.01 ? format(datum.value, '.1f') : ''"}},
            "detail": {"field": "s"},
            "color": {"field": "sim", "type": "nominal",
              "scale": {"range": ["#f01010","#18c018","#3c3cf0","#20f0f0","#f8f000","#ff10f0"]},
              "legend": {"title": null, "legendX": -139, "legendY": -552, "symbolType": "M-1.7,0H1.7", "symbolSize": 4096, "symbolStrokeWidth": 6, "labelOffset": 51, "rowPadding": 13,
                "labelExpr": "'仿真值，Maₑ,ᵢₛ=' + datum.label"}}
          }
        },
        {
          "data": {"name": "expA"},
          "mark": {"type": "point", "size": 320, "strokeWidth": 1.5, "opacity": 1},
          "encoding": {
            "x": {"field": "x", "type": "quantitative"},
            "y": {"field": "y", "type": "quantitative"},
            "fill": {"field": "exp", "type": "nominal",
              "scale": {"domain": ["0.54","0.65","0.74","0.85","0.95","1.00"], "range": ["#f01010","#18c018","#3c3cf0","#20f0f0","#f8f000","transparent"]},
              "legend": {"title": null, "legendX": 694, "legendY": -552, "symbolSize": 320, "symbolStrokeWidth": 2, "labelOffset": 56, "rowPadding": 13,
                "labelExpr": "'试验值，Maₑ,ᵢₛ=' + datum.label"}},
            "stroke": {"field": "exp", "type": "nominal",
              "scale": {"domain": ["0.54","0.65","0.74","0.85","0.95","1.00"], "range": ["#f01010","#18c018","#3c3cf0","#20f0f0","#f8f000","#ff10f0"]},
              "legend": {"title": null, "legendX": 694, "legendY": -552, "symbolSize": 320, "symbolStrokeWidth": 2, "labelOffset": 56, "rowPadding": 13,
                "labelExpr": "'试验值，Maₑ,ᵢₛ=' + datum.label"}},
            "shape": {"field": "exp", "type": "nominal",
              "scale": {"domain": ["0.54","0.65","0.74","0.85","0.95","1.00"], "range": ["square","triangle-up","triangle-down","circle","diamond","triangle-left"]},
              "legend": {"title": null, "legendX": 694, "legendY": -552, "symbolSize": 320, "symbolStrokeWidth": 2, "labelOffset": 56, "rowPadding": 13,
                "labelExpr": "'试验值，Maₑ,ᵢₛ=' + datum.label"}}
          }
        }
      ]
    },
    {
      "width": 1295,
      "height": 1140,
      "title": {"text": "(b) 优化后", "orient": "bottom", "offset": 38, "anchor": "middle"},
      "layer": [
        {
          "data": {"name": "simB"},
          "mark": {"type": "line", "strokeWidth": 4.5},
          "encoding": {
            "x": {"field": "x", "type": "quantitative", "scale": {"domain": [0, 1], "nice": false},
              "axis": {"title": "轴向相对弦长", "titlePadding": 28,
                "values": [0,0.05,0.1,0.15,0.2,0.25,0.3,0.35,0.4,0.45,0.5,0.55,0.6,0.65,0.7,0.75,0.8,0.85,0.9,0.95,1],
                "grid": true,
                "gridOpacity": {"condition": {"test": "abs(datum.value/0.2-round(datum.value/0.2))<0.01", "value": 1}, "value": 0},
                "labelExpr": "abs(datum.value/0.2-round(datum.value/0.2))<0.01 ? (datum.value<0.01 ? '0' : format(datum.value, '.1f')) : ''"}},
            "y": {"field": "y", "type": "quantitative", "scale": {"domain": [0, 1.4], "nice": false},
              "axis": {"title": "等熵马赫数", "titlePadding": 45,
                "values": [0,0.05,0.1,0.15,0.2,0.25,0.3,0.35,0.4,0.45,0.5,0.55,0.6,0.65,0.7,0.75,0.8,0.85,0.9,0.95,1,1.05,1.1,1.15,1.2,1.25,1.3,1.35,1.4],
                "grid": true,
                "gridOpacity": {"condition": {"test": "abs(datum.value/0.2-round(datum.value/0.2))<0.01", "value": 1}, "value": 0},
                "labelExpr": "abs(datum.value/0.2-round(datum.value/0.2))<0.01 && datum.value>0.01 ? format(datum.value, '.1f') : ''"}},
            "detail": {"field": "s"},
            "color": {"field": "sim", "type": "nominal"}
          }
        },
        {
          "data": {"name": "expB"},
          "transform": [{"filter": "datum.exp != '0.85' && datum.exp != '0.95'"}],
          "mark": {"type": "point", "size": 480, "strokeWidth": 3, "filled": false, "opacity": 1},
          "encoding": {
            "x": {"field": "x", "type": "quantitative"},
            "y": {"field": "y", "type": "quantitative"},
            "stroke": {"field": "exp", "type": "nominal", "scale": {"domain": ["0.54","0.65","0.74","0.85","0.95","1.00"]}},
            "shape": {"field": "exp", "type": "nominal", "scale": {"domain": ["0.54","0.65","0.74","0.85","0.95","1.00"]}}
          }
        },
        {
          "data": {"name": "expB"},
          "transform": [{"filter": "datum.exp == '0.85'"}],
          "mark": {"type": "point", "size": 480, "strokeWidth": 3, "filled": false, "opacity": 1, "shape": "diamond"},
          "encoding": {
            "x": {"field": "x", "type": "quantitative"},
            "y": {"field": "y", "type": "quantitative"},
            "stroke": {"field": "exp", "type": "nominal", "scale": {"domain": ["0.54","0.65","0.74","0.85","0.95","1.00"]}}
          }
        },
        {
          "data": {"name": "expB"},
          "transform": [{"filter": "datum.exp == '0.95'"}],
          "mark": {"type": "point", "size": 480, "strokeWidth": 3, "filled": false, "opacity": 1, "shape": "circle"},
          "encoding": {
            "x": {"field": "x", "type": "quantitative"},
            "y": {"field": "y", "type": "quantitative"},
            "stroke": {"field": "exp", "type": "nominal", "scale": {"domain": ["0.54","0.65","0.74","0.85","0.95","1.00"]}}
          }
        }
      ]
    }
  ]
}
